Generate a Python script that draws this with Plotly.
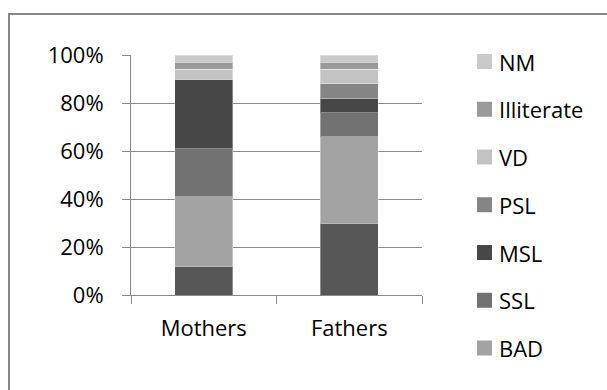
import plotly.graph_objects as go

# Education level of parents, share of respondents (%)
groups = ["Mothers", "Fathers"]
levels = ["PG", "BAD", "SSL", "MSL", "PSL", "VD", "Illiterate", "NM"]
mothers = [12, 29, 20, 29, 0, 4, 3, 3]
fathers = [30, 36, 10, 6, 6, 6, 3, 3]
colors = ["#575757", "#a3a3a3", "#727272", "#474747", "#858585", "#c3c3c3", "#9a9a9a", "#cacaca"]
legend_levels = ["NM", "Illiterate", "VD", "PSL", "MSL", "SSL", "BAD"]
y_ticks = [0, 20, 40, 60, 80, 100]

W, H = 607, 390
ML, MR, MT, MB = 131, 185, 55, 95
PW, PH = W - ML - MR, H - MT - MB


def px_x(x):
    return (x - ML) / PW


def px_y(y):
    return (H - MB - y) / PH


FONT = "Open Sans"
fig = go.Figure()
for i, name in enumerate(levels):
    fig.add_trace(go.Bar(
        x=groups,
        y=[mothers[i], fathers[i]],
        name=name,
        showlegend=False,
        marker=dict(color=colors[i], line=dict(color="rgba(255,255,255,0.35)", width=1)),
    ))

# Legend drawn as swatches + labels down the right-hand side
shapes = [dict(
    type="rect", xref="paper", yref="paper",
    x0=px_x(9), x1=px_x(700), y0=px_y(500), y1=px_y(14),
    line=dict(color="#868686", width=2), fillcolor="rgba(0,0,0,0)",
    layer="below",
)]
annotations = []
for k, name in enumerate(legend_levels):
    cy = 61.5 + 47.75 * k
    col = colors[levels.index(name)]
    shapes.append(dict(
        type="rect", xref="paper", yref="paper",
        x0=px_x(477), x1=px_x(492), y0=px_y(cy + 7.5), y1=px_y(cy - 7.5),
        line=dict(width=0), fillcolor=col,
    ))
    annotations.append(dict(
        xref="paper", yref="paper", x=px_x(497), y=px_y(cy),
        xanchor="left", yanchor="middle", text=name, showarrow=False,
        font=dict(family=FONT, size=22, color="black"),
    ))

grid = "#8a8a8a"
fig.update_layout(
    width=W, height=H,
    margin=dict(l=ML, r=MR, t=MT, b=MB, autoexpand=False),
    barmode="stack",
    bargap=0.6,
    paper_bgcolor="white",
    plot_bgcolor="white",
    font=dict(family=FONT, size=22, color="black"),
    showlegend=False,
    xaxis=dict(
        showline=True, linecolor=grid, linewidth=1,
        ticks="outside", tickson="boundaries", ticklen=8, tickcolor=grid,
        showgrid=False, ticklabelstandoff=14,
    ),
    yaxis=dict(
        range=[0, 100], tickvals=y_ticks, ticktext=[f"{v}%" for v in y_ticks],
        showline=True, linecolor=grid, linewidth=1,
        ticks="outside", ticklen=8, tickcolor=grid,
        showgrid=True, gridcolor=grid, gridwidth=1, zeroline=False,
        ticklabelstandoff=14,
    ),
    shapes=shapes,
    annotations=annotations,
)

fig.write_html("out.html")
